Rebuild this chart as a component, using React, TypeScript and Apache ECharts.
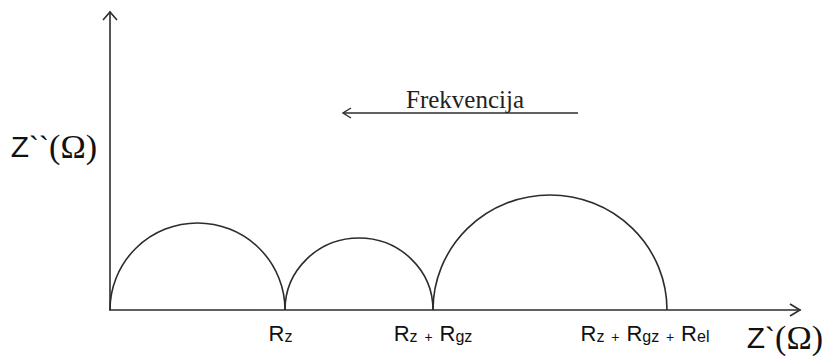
import React, { useEffect, useRef } from "react";
import * as echarts from "echarts";

// Resistances (arbitrary Ω units)
const resistanceNames = ["Rz", "Rgz", "Rel"];
const resistanceValues = [175, 148, 234];
// Peak heights of the semicircles (Z'' at top)
const peakHeights = [87, 72, 115];
// Tick labels on the Z' axis
const tickLabels = ["Rz", "Rz + Rgz", "Rz + Rgz + Rel"];
const xAxisTitle = ["Z`", "(Ω)"];
const yAxisTitle = ["Z``", "(Ω)"];
const arrowLabel = "Frekvencija";
const xMax = 690;
const yMax = 298;

const INK = "#2c2c2c";

function buildRich(label: string, idx: number): string {
  const terms = label.split(" + ");
  const parts = terms.map((t) => `{big|${t.charAt(0)}}{sub|${t.slice(1)}}`);
  let s = parts.join("{plus| + }");
  if (idx === 0) s += "{pad0|}";
  if (idx === 2) s += "{pad2|}";
  return s;
}

const titleRich = {
  a: { fontFamily: "Liberation Sans", fontSize: 30, fill: "#111", color: "#111" },
  b: { fontFamily: "Liberation Serif", fontSize: 34, fill: "#111", color: "#111" },
};

export default function App() {
  const ref = useRef<HTMLDivElement>(null);
  useEffect(() => {
    const chart = echarts.init(ref.current!, null, { renderer: "svg", width: 826, height: 356 });

    const bounds: number[] = [0];
    resistanceValues.forEach((v, i) => bounds.push(bounds[i] + v));
    const arcs = resistanceValues.map((_, i) => [bounds[i], bounds[i + 1], peakHeights[i]]);
    const tickValues = bounds.slice(1);

    const option: any = {
      animation: false,
      backgroundColor: "#ffffff",
      grid: { left: 110, right: 26, top: 12, bottom: 46, containLabel: false },
      xAxis: {
        type: "value",
        min: 0,
        max: xMax,
        name: `{a|${xAxisTitle[0]}}{b|${xAxisTitle[1]}}`,
        nameLocation: "end",
        nameGap: 23,
        nameTextStyle: {
          color: "#111",
          align: "right",
          verticalAlign: "top",
          padding: [10, 0, 0, 0],
          rich: titleRich,
        },
        axisLine: { show: true, lineStyle: { color: INK, width: 1.6 } },
        axisTick: { show: false },
        splitLine: { show: false },
        axisLabel: {
          show: true,
          customValues: tickValues,
          margin: 12,
          formatter: (v: number) => {
            const i = tickValues.findIndex((t) => Math.abs(t - v) < 1e-6);
            return i >= 0 ? buildRich(tickLabels[i], i) : "";
          },
          rich: {
            big: { fontFamily: "Liberation Sans", fontSize: 22, color: "#111", verticalAlign: "bottom" },
            sub: { fontFamily: "Liberation Sans", fontSize: 16, color: "#111", verticalAlign: "bottom", lineHeight: 21 },
            plus: {
              fontFamily: "Liberation Sans",
              fontSize: 14,
              color: "#111",
              verticalAlign: "bottom",
              lineHeight: 20,
              padding: [0, 3, 0, 3],
            },
            pad0: { width: 9 },
            pad2: { width: 44 },
          },
        },
      },
      yAxis: {
        type: "value",
        min: 0,
        max: yMax,
        axisLine: { show: true, lineStyle: { color: INK, width: 1.6 } },
        axisTick: { show: false },
        splitLine: { show: false },
        axisLabel: { show: false },
      },
      series: [
        {
          type: "custom",
          name: resistanceNames.join(", "),
          data: arcs,
          encode: { x: [0, 1], y: 2 },
          clip: false,
          renderItem: (params: any, api: any) => {
            const x0 = api.value(0);
            const x1 = api.value(1);
            const h = api.value(2);
            const p0 = api.coord([x0, 0]);
            const p1 = api.coord([x1, 0]);
            const pt = api.coord([x0, h]);
            const rx = (p1[0] - p0[0]) / 2;
            const ry = p0[1] - pt[1];
            return {
              type: "path",
              shape: {
                pathData: `M${p0[0]} ${p0[1]} A${rx} ${ry} 0 0 1 ${p1[0]} ${p1[1]}`,
              },
              style: { fill: "none", stroke: INK, lineWidth: 1.6 },
            };
          },
        },
      ],
      graphic: [
        {
          type: "polyline",
          shape: { points: [[103, 20], [110, 12], [117, 20]] },
          style: { fill: "none", stroke: INK, lineWidth: 1.6 },
        },
        {
          type: "polyline",
          shape: { points: [[790, 304], [800, 310], [790, 316]] },
          style: { fill: "none", stroke: INK, lineWidth: 1.6 },
        },
        {
          type: "line",
          shape: { x1: 343, y1: 113, x2: 578, y2: 113 },
          style: { stroke: INK, lineWidth: 1.4 },
        },
        {
          type: "polyline",
          shape: { points: [[351, 108], [343, 113], [351, 118]] },
          style: { fill: "none", stroke: INK, lineWidth: 1.4 },
        },
        {
          type: "text",
          x: 465,
          y: 99,
          style: {
            text: arrowLabel,
            fontFamily: "Liberation Serif",
            fontSize: 25,
            fill: "#222",
            align: "center",
            verticalAlign: "middle",
          },
        },
        {
          type: "text",
          x: 97,
          y: 146,
          style: {
            text: `{a|${yAxisTitle[0]}}{b|${yAxisTitle[1]}}`,
            rich: titleRich,
            fill: "#111",
            align: "right",
            verticalAlign: "middle",
          },
        },
      ],
    };

    chart.setOption(option);
    return () => chart.dispose();
  }, []);

  return (
    <div
      ref={ref}
      style={{ position: "fixed", left: 0, top: 0, width: 826, height: 356, background: "#fff" }}
    />
  );
}
